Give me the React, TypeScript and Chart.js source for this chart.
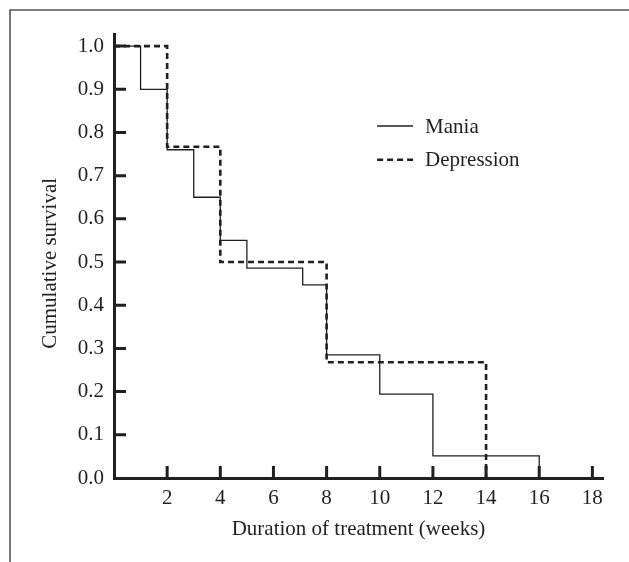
import React, { useEffect, useRef } from "react";
import { Chart, registerables } from "chart.js";

Chart.register(...registerables);

// Data
const maniaWeeks = [0, 1, 2, 3, 4, 5, 7.1, 8, 10, 12, 16];
const maniaSurvival = [1.0, 0.9, 0.76, 0.65, 0.55, 0.486, 0.447, 0.285, 0.194, 0.051, 0.0];
const depressionWeeks = [0, 2, 4, 8, 14];
const depressionSurvival = [1.0, 0.767, 0.5, 0.268, 0.0];
const legendLabels = ["Mania", "Depression"];
const xTitle = "Duration of treatment (weeks)";
const yTitle = "Cumulative survival";

const INK = "#231f20";
const FONT = "'Liberation Serif', 'Times New Roman', serif";

const framePlugin = {
  id: "frame",
  beforeDraw(chart: any) {
    const ctx = chart.ctx;
    ctx.save();
    ctx.fillStyle = "#ffffff";
    ctx.fillRect(0, 0, chart.width, chart.height);
    ctx.strokeStyle = "#555555";
    ctx.lineWidth = 1.6;
    ctx.beginPath();
    ctx.moveTo(10, chart.height);
    ctx.lineTo(10, 10);
    ctx.lineTo(chart.width, 10);
    ctx.stroke();
    ctx.restore();
  },
};

const innerTicksPlugin = {
  id: "innerTicks",
  afterDraw(chart: any) {
    const ctx = chart.ctx;
    const xs = chart.scales.x;
    const ys = chart.scales.y;
    const area = chart.chartArea;
    const len = 12;
    ctx.save();
    ctx.strokeStyle = INK;
    ctx.lineWidth = 3;
    ctx.beginPath();
    ys.ticks.forEach((t: any) => {
      if (t.value <= 0) return;
      const y = ys.getPixelForValue(t.value);
      ctx.moveTo(area.left, y);
      ctx.lineTo(area.left + len, y);
    });
    xs.ticks.forEach((t: any) => {
      if (t.value <= 0) return;
      const x = xs.getPixelForValue(t.value);
      ctx.moveTo(x, area.bottom);
      ctx.lineTo(x, area.bottom - len);
    });
    ctx.stroke();

    // Y axis title
    ctx.fillStyle = INK;
    ctx.font = "21px " + FONT;
    ctx.save();
    ctx.translate(50, ys.getPixelForValue(0.497));
    ctx.rotate(-Math.PI / 2);
    ctx.textAlign = "center";
    ctx.textBaseline = "middle";
    ctx.fillText(yTitle, 0, 0);
    ctx.restore();

    // Legend
    const lx = xs.getPixelForValue(9.9);
    const ly1 = ys.getPixelForValue(0.815);
    const ly2 = ys.getPixelForValue(0.737);
    const sampleW = 36;
    ctx.lineWidth = 1.3;
    ctx.setLineDash([]);
    ctx.beginPath();
    ctx.moveTo(lx, ly1);
    ctx.lineTo(lx + sampleW, ly1);
    ctx.stroke();
    ctx.lineWidth = 2.6;
    ctx.setLineDash([6, 4]);
    ctx.beginPath();
    ctx.moveTo(lx, ly2);
    ctx.lineTo(lx + sampleW, ly2);
    ctx.stroke();
    ctx.setLineDash([]);
    ctx.textBaseline = "middle";
    ctx.textAlign = "left";
    ctx.fillText(legendLabels[0], lx + sampleW + 12, ly1 + 1);
    ctx.fillText(legendLabels[1], lx + sampleW + 12, ly2 + 1);
    ctx.restore();
  },
};

export default function App() {
  const ref = useRef<HTMLCanvasElement | null>(null);

  useEffect(() => {
    if (!ref.current) return;
    const chart = new Chart(ref.current, {
      type: "line",
      data: {
        datasets: [
          {
            label: legendLabels[0],
            data: maniaWeeks.map((w, i) => ({ x: w, y: maniaSurvival[i] })),
            borderColor: INK,
            borderWidth: 1.3,
            stepped: "before",
            pointRadius: 0,
            fill: false,
          },
          {
            label: legendLabels[1],
            data: depressionWeeks.map((w, i) => ({ x: w, y: depressionSurvival[i] })),
            borderColor: INK,
            borderWidth: 2.6,
            borderDash: [6, 4],
            stepped: "before",
            pointRadius: 0,
            fill: false,
          },
        ],
      },
      options: {
        responsive: false,
        animation: false,
        layout: { padding: { top: 34, right: 26, left: 0, bottom: 0 } },
        plugins: { legend: { display: false }, tooltip: { enabled: false } },
        scales: {
          x: {
            type: "linear",
            min: 0,
            max: 18.4,
            afterFit: (s: any) => {
              s.height = 84;
            },
            grid: { display: false, drawTicks: false },
            border: { display: true, color: INK, width: 3 },
            ticks: {
              stepSize: 2,
              includeBounds: false,
              color: INK,
              padding: 8,
              font: { family: FONT, size: 21 },
              callback: (v: any) => (v === 0 ? "" : String(v)),
            },
            title: {
              display: true,
              text: xTitle,
              color: INK,
              font: { family: FONT, size: 21 },
              padding: { top: 0, bottom: 20 },
            },
          },
          y: {
            type: "linear",
            min: 0,
            max: 1.028,
            afterFit: (s: any) => {
              s.width = 114;
            },
            grid: { display: false, drawTicks: false },
            border: { display: true, color: INK, width: 3 },
            ticks: {
              stepSize: 0.1,
              includeBounds: false,
              color: INK,
              padding: 10,
              font: { family: FONT, size: 21 },
              callback: (v: any) => Number(v).toFixed(1),
            },
            title: { display: false },
          },
        },
      },
      plugins: [framePlugin, innerTicksPlugin],
    } as any);
    return () => chart.destroy();
  }, []);

  return (
    <div style={{ position: "absolute", left: 0, top: 0, width: 629, height: 562 }}>
      <canvas ref={ref} width={629} height={562} style={{ display: "block" }} />
    </div>
  );
}
